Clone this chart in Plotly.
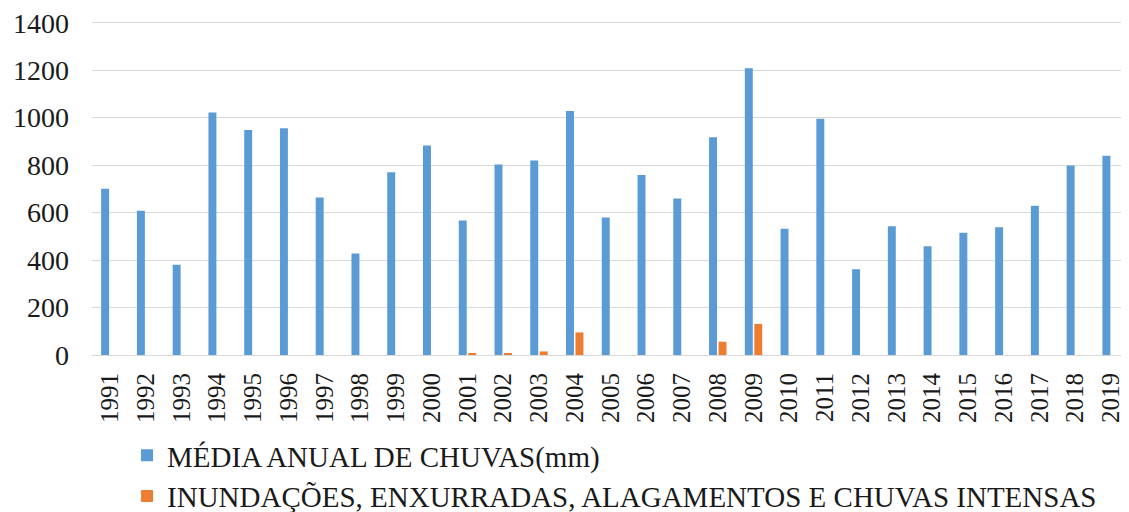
import plotly.graph_objects as go

years = [str(y) for y in range(1991, 2020)]
chuvas = [700, 608, 380, 1022, 948, 955, 664, 428, 770, 883,
          567, 803, 820, 1028, 579, 758, 659, 918, 1208, 532,
          996, 361, 543, 458, 515, 538, 629, 799, 840]
desastres = [0, 0, 0, 0, 0, 0, 0, 0, 0, 0,
             8, 6, 15, 95, 0, 0, 0, 56, 131, 0,
             0, 0, 0, 0, 0, 0, 0, 0, 0]
y_ticks = [0, 200, 400, 600, 800, 1000, 1200, 1400]

serif = "'Liberation Serif', 'Times New Roman', Times, serif"

fig = go.Figure()
fig.add_trace(go.Bar(x=years, y=chuvas, name="MÉDIA ANUAL DE CHUVAS(mm)",
                     marker_color="#5b9bd5", marker_line_width=0))
fig.add_trace(go.Bar(x=years, y=desastres,
                     name="INUNDAÇÕES, ENXURRADAS, ALAGAMENTOS E CHUVAS INTENSAS",
                     marker_color="#ed7d31", marker_line_width=0))

# the page body adds an 8px offset, so the figure is 8px smaller on each axis
fig.update_layout(
    width=1121, height=504,
    margin=dict(l=84, r=0, t=10, b=157, autoexpand=False),
    paper_bgcolor="white", plot_bgcolor="white",
    barmode="group", bargap=0.47, bargroupgap=0.16,
    font=dict(family=serif, color="#1a1a1a"),
    legend=dict(orientation="v", xref="container", yref="container",
                x=0.1062, y=0.163, xanchor="left", yanchor="top",
                font=dict(family=serif, size=29, color="#1a1a1a"),
                itemwidth=30, tracegroupgap=0, bgcolor="rgba(0,0,0,0)"),
    showlegend=True,
)
fig.update_xaxes(type="category", tickangle=-90, showgrid=False,
                 showline=True, linecolor="#d9d9d9", linewidth=1,
                 ticks="", tickfont=dict(family=serif, size=25, color="#1a1a1a"),
                 ticklabelstandoff=7, ticklabeloverflow="allow")
fig.update_yaxes(range=[0, 1420], tickvals=y_ticks,
                 showgrid=True, gridcolor="#d9d9d9",
                 gridwidth=1, zeroline=False, showline=False, ticks="",
                 tickfont=dict(family=serif, size=28, color="#1a1a1a"),
                 ticklabelstandoff=22, ticklabeloverflow="allow")

fig.write_html("out.html")
